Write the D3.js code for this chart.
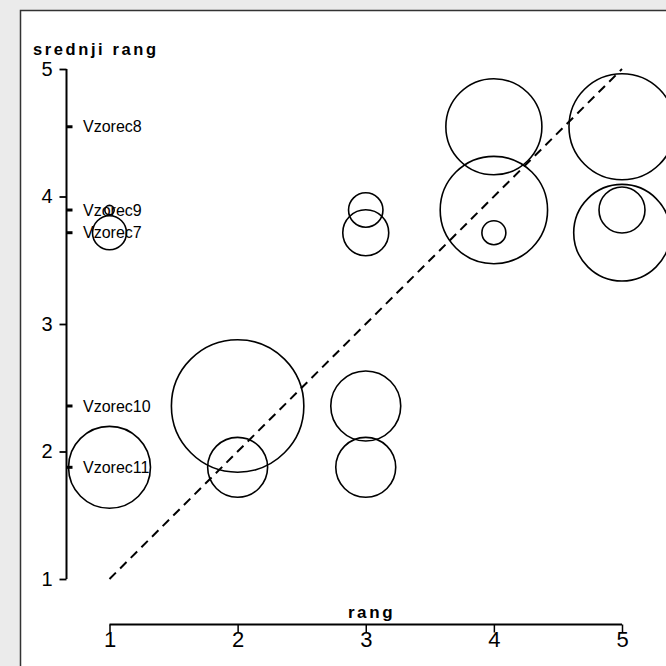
<!DOCTYPE html>
<html>
<head>
<meta charset="utf-8">
<script src="https://cdn.jsdelivr.net/npm/d3@7"></script>
<style>
  html, body { margin: 0; padding: 0; background: #ebebeb; }
  svg { display: block; }
  text { font-family: "Liberation Sans", Arial, sans-serif; }
</style>
</head>
<body>
<svg id="chart" width="666" height="666"></svg>
<script>
// ---- data ----
const samples = ["Vzorec7", "Vzorec8", "Vzorec9", "Vzorec10", "Vzorec11"];
const meanRank = [3.716, 4.547, 3.894, 2.357, 1.876];
const ranks = [1, 2, 3, 4, 5];
// bubble weights per rank (1..5) for each sample (0 = no bubble)
const weightVzorec7  = [3.09, 0, 4.18, 2.18, 8.78];
const weightVzorec8  = [0, 0, 0, 8.73, 9.64];
const weightVzorec9  = [0.85, 0, 3.13, 9.76, 4.18];
const weightVzorec10 = [0, 12.04, 6.36, 0, 0];
const weightVzorec11 = [7.45, 5.45, 5.45, 0, 0];
const yTicks = [1, 2, 3, 4, 5];
const xTicks = [1, 2, 3, 4, 5];
const xTitle = "rang";
const yTitle = "srednji rang";

const weights = [weightVzorec7, weightVzorec8, weightVzorec9, weightVzorec10, weightVzorec11];
const bubbles = [];
samples.forEach((s, i) => {
  ranks.forEach((r, j) => {
    if (weights[i][j] > 0) bubbles.push({ sample: s, rank: r, mean: meanRank[i], w: weights[i][j] });
  });
});

// ---- drawing ----
const svg = d3.select("#chart");

// panel
svg.append("rect")
  .attr("x", 20.5).attr("y", 10.5)
  .attr("width", 700).attr("height", 700)
  .attr("fill", "#ffffff")
  .attr("stroke", "#333333").attr("stroke-width", 1.5);

const x = d3.scaleLinear().domain([1, 5]).range([109.5, 622]);
const y = d3.scaleLinear().domain([1, 5]).range([579, 69]);
const r = d3.scaleLinear().domain([0, 12]).range([0, 66]);

// bubbles
svg.append("g").selectAll("circle")
  .data(bubbles)
  .join("circle")
  .attr("cx", d => x(d.rank))
  .attr("cy", d => y(d.mean))
  .attr("r", d => r(d.w))
  .attr("fill", "none")
  .attr("stroke", "#000")
  .attr("stroke-width", 1.6);

// diagonal reference line
svg.append("line")
  .attr("x1", x(1)).attr("y1", y(1))
  .attr("x2", x(5)).attr("y2", y(5))
  .attr("stroke", "#000")
  .attr("stroke-width", 2)
  .attr("stroke-dasharray", "9,6");

// y axis
const yAxis = d3.axisLeft(y).tickValues(yTicks).tickSize(7).tickPadding(7).tickFormat(d3.format("d"));
const gy = svg.append("g").attr("transform", "translate(66.5,0)").call(yAxis);
gy.select(".domain").attr("d", `M0,${y(5)}V${y(1)}`).attr("stroke", "#000").attr("stroke-width", 2);
gy.selectAll(".tick line").attr("stroke", "#000").attr("stroke-width", 1.8);
gy.selectAll(".tick text")
  .attr("font-size", 20)
  .attr("font-family", "Liberation Sans, Arial, sans-serif")
  .attr("fill", "#000");

// sample markers on y axis
const gs = svg.append("g");
samples.forEach((s, i) => {
  gs.append("line")
    .attr("x1", 67).attr("x2", 72.5)
    .attr("y1", y(meanRank[i])).attr("y2", y(meanRank[i]))
    .attr("stroke", "#000").attr("stroke-width", 3);
  gs.append("text")
    .attr("x", 83).attr("y", y(meanRank[i]))
    .attr("dy", "0.35em")
    .attr("font-size", 16)
    .attr("fill", "#000")
    .text(s);
});

// x axis
const xAxis = d3.axisBottom(x).tickValues(xTicks).tickSize(8).tickPadding(0).tickFormat(d3.format("d"));
const gx = svg.append("g").attr("transform", "translate(0,624.5)").call(xAxis);
gx.select(".domain").attr("d", `M${x(1)},0H${x(5)}`).attr("stroke", "#000").attr("stroke-width", 2);
gx.selectAll(".tick line").attr("stroke", "#000").attr("stroke-width", 1.5);
gx.selectAll(".tick text")
  .attr("font-size", 22)
  .attr("font-family", "Liberation Sans, Arial, sans-serif")
  .attr("fill", "#000")
  .attr("dy", "0.72em")
  .attr("y", 7);

// titles
svg.append("text")
  .attr("x", 371.5).attr("y", 618)
  .attr("text-anchor", "middle")
  .attr("font-size", 17).attr("font-weight", "bold")
  .attr("letter-spacing", 2.6)
  .text(xTitle);

svg.append("text")
  .attr("x", 33).attr("y", 55)
  .attr("font-size", 16.5).attr("font-weight", "bold")
  .attr("letter-spacing", 2.6)
  .text(yTitle);
</script>
</body>
</html>
